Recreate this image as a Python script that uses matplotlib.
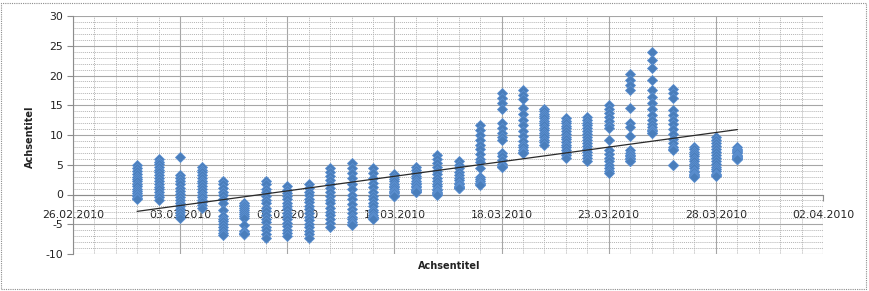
import datetime as dt
import numpy as np
import matplotlib
matplotlib.use("Agg")
import matplotlib.pyplot as plt
import matplotlib.dates as mdates
from matplotlib.ticker import FixedLocator
from matplotlib.patches import Rectangle

# ---- data: 16 readings per day (01.03.2010 .. 29.03.2010) ----
start_day = dt.date(2010, 3, 1)
d01 = [4.9, 4.4, 3.9, 3.4, 3.0, 2.6, 2.2, 1.8, 1.4, 1.0, 0.6, 0.3, 0.0, -0.3, -0.6, -0.8]
d02 = [6.0, 5.5, 5.1, 4.6, 4.1, 3.7, 3.2, 2.7, 2.3, 1.8, 1.3, 0.9, 0.4, -0.1, -0.5, -1.0]
d03 = [6.3, 3.2, 2.7, 2.2, 1.7, 1.1, 0.6, 0.1, -0.4, -0.9, -1.4, -1.9, -2.5, -3.0, -3.5, -4.0]
d04 = [4.6, 4.1, 3.7, 3.2, 2.8, 2.3, 1.9, 1.4, 0.9, 0.5, 0.0, -0.4, -0.9, -1.3, -1.8, -2.3]
d05 = [2.3, 1.7, 1.1, 0.5, -0.1, -0.8, -1.5, -2.6, -3.6, -4.1, -4.5, -5.0, -5.5, -5.9, -6.4, -6.8]
d06 = [-1.4, -1.7, -2.0, -2.3, -2.6, -2.9, -3.2, -3.6, -3.9, -5.2, -6.2, -6.4, -6.5, -6.6, -6.7, -6.7]
d07 = [2.3, 1.7, 1.0, 0.4, -0.3, -0.9, -1.5, -2.2, -2.8, -3.5, -4.1, -4.7, -5.4, -6.0, -6.7, -7.3]
d08 = [1.4, 0.8, 0.3, -0.3, -0.8, -1.4, -2.0, -2.5, -3.1, -3.6, -4.2, -4.8, -5.3, -5.9, -6.4, -7.0]
d09 = [1.7, 1.1, 0.5, -0.1, -0.7, -1.3, -1.9, -2.5, -3.1, -3.7, -4.3, -4.9, -5.5, -6.1, -6.7, -7.3]
d10 = [4.4, 3.7, 3.1, 2.4, 1.8, 1.1, 0.4, -0.2, -0.9, -1.5, -2.2, -2.9, -3.5, -4.2, -4.8, -5.5]
d11 = [5.3, 4.5, 3.6, 2.7, 1.8, 0.9, 0.0, -0.8, -1.6, -2.4, -3.1, -3.7, -4.2, -4.6, -4.9, -5.1]
d12 = [4.4, 3.6, 2.8, 2.0, 1.2, 0.5, -0.2, -0.8, -1.4, -2.0, -2.6, -3.0, -3.4, -3.7, -4.0, -4.2]
d13 = [3.4, 3.0, 2.6, 2.2, 1.8, 1.5, 1.2, 0.9, 0.6, 0.4, 0.2, 0.0, -0.1, -0.2, -0.3, -0.3]
d14 = [4.6, 4.1, 3.6, 3.1, 2.7, 2.3, 2.0, 1.7, 1.4, 1.2, 1.0, 0.8, 0.7, 0.6, 0.5, 0.5]
d15 = [6.6, 6.0, 5.3, 4.7, 4.0, 3.4, 2.8, 2.3, 1.8, 1.4, 1.0, 0.7, 0.4, 0.2, 0.1, 0.0]
d16 = [5.6, 5.0, 4.4, 3.8, 3.3, 2.8, 2.4, 2.0, 1.7, 1.5, 1.3, 1.2, 1.1, 1.1, 1.1, 1.1]
d17 = [11.6, 10.8, 10.0, 9.2, 8.4, 7.6, 6.8, 6.0, 5.4, 4.4, 3.0, 2.6, 2.2, 1.9, 1.7, 1.6]
d18 = [17.1, 16.3, 15.4, 14.4, 12.0, 11.2, 10.4, 9.6, 9.2, 7.0, 6.4, 5.8, 5.2, 4.8, 4.6, 4.6]
d19 = [17.6, 16.8, 16.0, 14.6, 13.6, 12.6, 11.6, 10.6, 9.8, 9.0, 8.4, 7.9, 7.5, 7.2, 7.0, 7.0]
d20 = [14.4, 14.0, 13.6, 13.2, 12.8, 12.4, 12.0, 11.6, 11.2, 10.8, 10.4, 10.0, 9.6, 9.2, 8.8, 8.4]
d21 = [12.9, 12.4, 12.0, 11.5, 11.1, 10.6, 10.2, 9.7, 9.3, 8.8, 8.4, 7.9, 7.5, 7.0, 6.6, 6.1]
d22 = [13.1, 12.6, 12.1, 11.6, 11.1, 10.6, 10.1, 9.6, 9.1, 8.6, 8.1, 7.6, 7.1, 6.6, 6.1, 5.6]
d23 = [15.0, 14.4, 13.7, 13.0, 12.3, 11.7, 11.1, 9.2, 7.4, 6.8, 6.2, 5.6, 5.0, 4.5, 4.0, 3.6]
d24 = [20.3, 19.3, 18.4, 17.6, 14.6, 12.0, 11.4, 9.8, 7.4, 7.0, 6.7, 6.4, 6.1, 5.9, 5.7, 5.6]
d25 = [24.0, 22.6, 21.2, 19.2, 17.5, 16.4, 15.3, 14.3, 13.4, 12.6, 11.9, 11.3, 10.9, 10.6, 10.4, 10.3]
d26 = [17.8, 17.0, 16.3, 14.2, 13.4, 12.6, 11.8, 11.0, 10.2, 9.4, 8.6, 8.0, 7.6, 7.5, 5.0, 5.0]
d27 = [8.0, 7.6, 7.2, 6.8, 6.4, 6.0, 5.6, 5.2, 4.8, 4.4, 4.0, 3.7, 3.4, 3.2, 3.1, 3.0]
d28 = [9.7, 9.2, 8.7, 8.2, 7.7, 7.2, 6.7, 6.2, 5.7, 5.2, 4.7, 4.3, 3.9, 3.5, 3.2, 3.1]
d29 = [7.9, 7.7, 7.5, 7.3, 7.1, 6.9, 6.7, 6.5, 6.4, 6.3, 6.2, 6.1, 6.0, 6.0, 5.9, 5.9]
daily_values = [d01, d02, d03, d04, d05, d06, d07, d08, d09, d10, d11, d12, d13, d14,
                d15, d16, d17, d18, d19, d20, d21, d22, d23, d24, d25, d26, d27, d28, d29]

x_min_date = dt.date(2010, 2, 26)
x_max_date = dt.date(2010, 4, 2)
x_tick_dates = [dt.date(2010, 2, 26), dt.date(2010, 3, 3), dt.date(2010, 3, 8),
                dt.date(2010, 3, 13), dt.date(2010, 3, 18), dt.date(2010, 3, 23),
                dt.date(2010, 3, 28), dt.date(2010, 4, 2)]
y_ticks = [-10, -5, 0, 5, 10, 15, 20, 25, 30]
x_label = "Achsentitel"
y_label = "Achsentitel"

# ---- build flat arrays ----
xs, ys = [], []
for i, vals in enumerate(daily_values):
    day = mdates.date2num(start_day + dt.timedelta(days=i))
    xs.extend([day] * len(vals))
    ys.extend(vals)
xs = np.array(xs)
ys = np.array(ys)

plt.rcParams['font.family'] = ['DejaVu Sans']
plt.rcParams['axes.unicode_minus'] = False

fig = plt.figure(figsize=(8.7, 2.91), dpi=100)
fig.patch.set_facecolor('white')
ax = fig.add_axes([73 / 870, 37 / 291, 750 / 870, 238 / 291])

xmin = mdates.date2num(x_min_date)
xmax = mdates.date2num(x_max_date)
ax.set_xlim(xmin, xmax)
ax.set_ylim(y_ticks[0], y_ticks[-1])

# ticks & grid
ax.set_yticks(y_ticks)
ax.set_yticks(np.arange(-10, 31, 1), minor=True)
ax.xaxis.set_major_locator(FixedLocator([mdates.date2num(d) for d in x_tick_dates]))
ax.xaxis.set_minor_locator(mdates.DayLocator())
ax.xaxis.set_major_formatter(mdates.DateFormatter('%d.%m.%Y'))
ax.grid(which='major', color='#A6A6A6', linewidth=0.8, linestyle='-')
ax.grid(which='minor', color='#B4B4B4', linewidth=0.7, linestyle=(0, (1, 1)))
ax.set_axisbelow(True)

# x axis crosses at 0
ax.spines['bottom'].set_position(('data', 0))
ax.spines['bottom'].set_color('#8C8C8C')
ax.spines['bottom'].set_linewidth(0.8)
ax.spines['left'].set_color('#8C8C8C')
ax.spines['left'].set_linewidth(0.8)
ax.spines['top'].set_visible(False)
ax.spines['right'].set_visible(False)

ax.tick_params(axis='x', which='major', length=4, width=0.8, color='#8C8C8C',
               pad=7.5, labelsize=7.8, labelcolor='#222222')
ax.tick_params(axis='x', which='minor', length=0)
ax.tick_params(axis='y', which='major', length=4, width=0.8, color='#8C8C8C',
               pad=3, labelsize=7.8, labelcolor='#222222')
ax.tick_params(axis='y', which='minor', length=0)
for lbl in ax.get_xticklabels():
    lbl.set_clip_on(False)

# scatter points
ax.plot(xs, ys, linestyle='none', marker='D', markersize=5.2,
        markerfacecolor='#4A7EBB', markeredgecolor='#5B8FD0', markeredgewidth=0.6,
        zorder=3)

# linear trend line
coef = np.polyfit(xs, ys, 1)
tx = np.array([xs.min(), xs.max()])
ax.plot(tx, np.polyval(coef, tx), color='#2A2A2A', linewidth=0.9, zorder=4)

# axis titles
fig.text(449 / 870, 1 - 266 / 291, x_label, ha='center', va='center',
         fontsize=7, fontweight='bold', color='#222222')
fig.text(30 / 870, 1 - 137 / 291, y_label, ha='center', va='center', rotation=90,
         fontsize=7, fontweight='bold', color='#222222')

# chart border
fig.patches.append(Rectangle((1.5 / 870, 2.5 / 291), 865 / 870, 286 / 291,
                             transform=fig.transFigure, fill=False,
                             edgecolor='#8C8C8C', linewidth=0.8,
                             linestyle=(0, (1, 1))))

fig.savefig('out.png', dpi=100, facecolor='white')
